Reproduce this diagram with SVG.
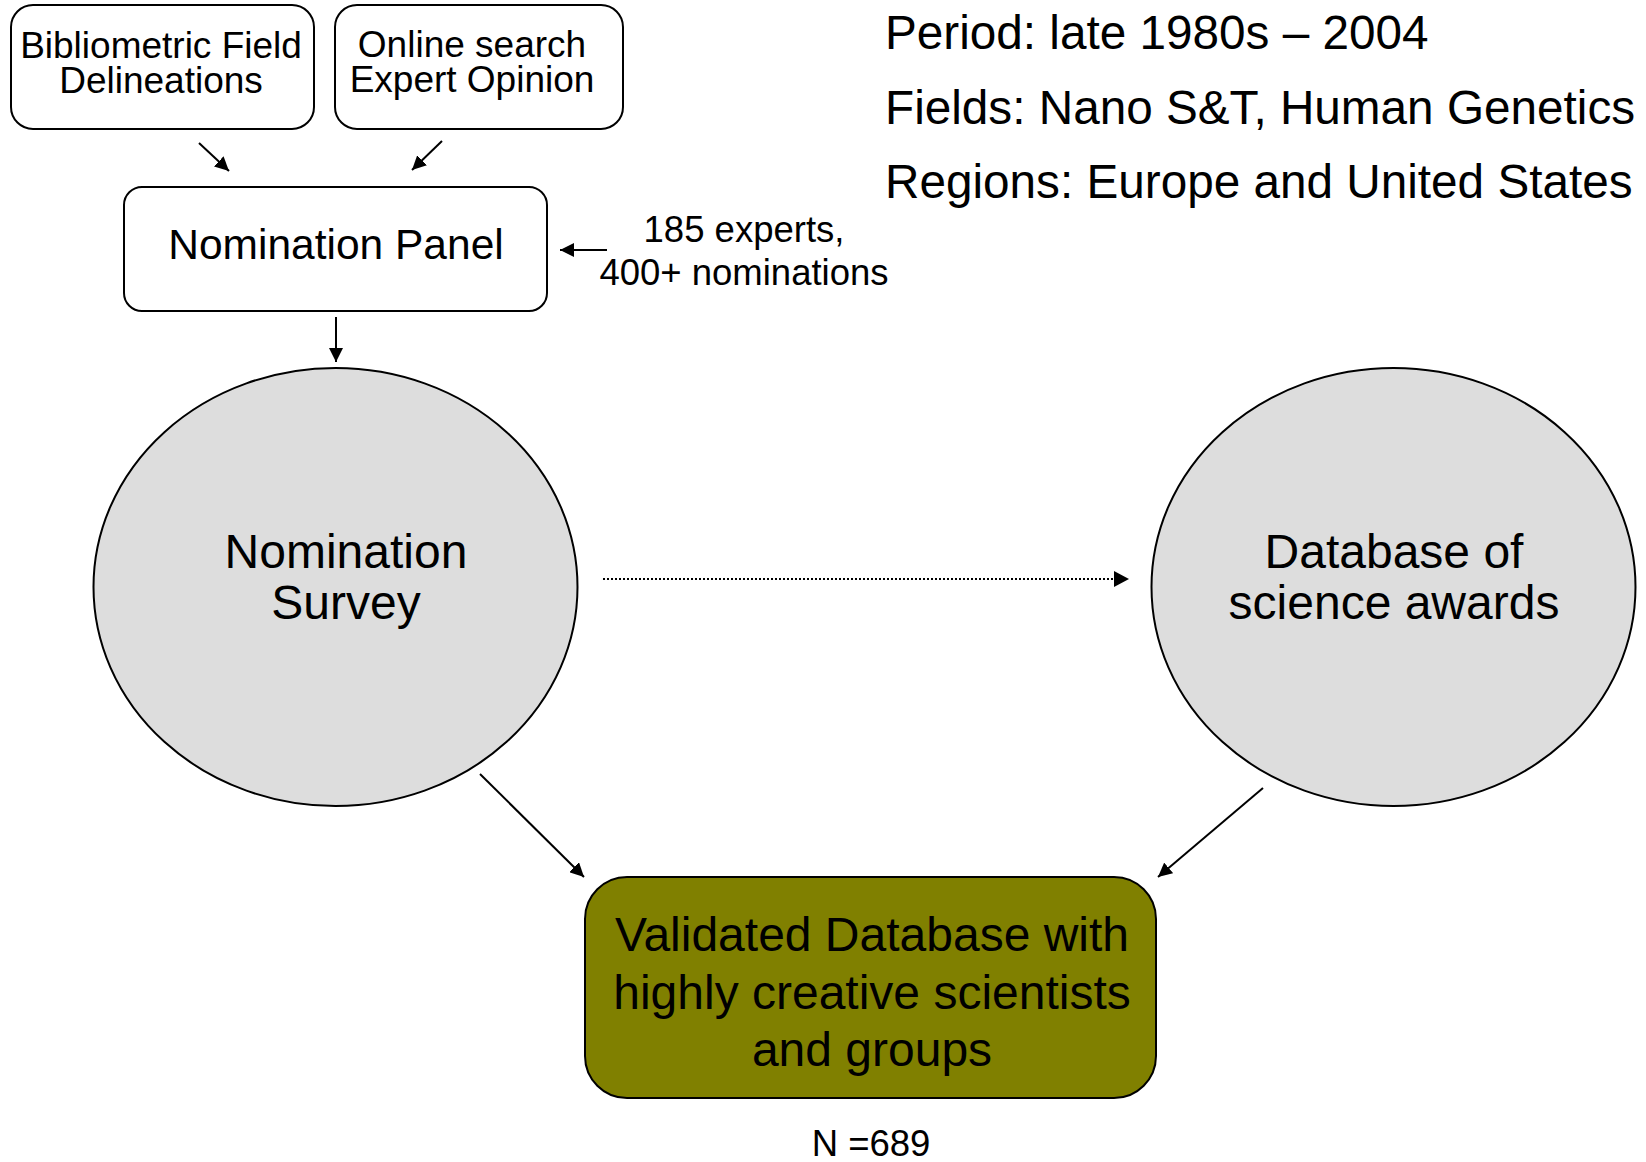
<svg xmlns="http://www.w3.org/2000/svg" width="1646" height="1162" viewBox="0 0 1646 1162">
<style>
text{font-family:"Liberation Sans",Arial,sans-serif;fill:#000;text-anchor:middle}
.box{fill:#fff;stroke:#000;stroke-width:2}
.ell{fill:#dddddd;stroke:#000;stroke-width:2}
.con{stroke:#000;stroke-width:2;fill:none;marker-end:url(#ah)}
.s36{font-size:36.5px}
.s37{font-size:37px}
.s42{font-size:42.5px}
.s48{font-size:48px}
.info{font-size:47.7px;text-anchor:start}
</style>
<defs>
<marker id="ah" viewBox="0 0 10 10" refX="10" refY="5" markerWidth="7" markerHeight="7" markerUnits="strokeWidth" orient="auto">
<path d="M0,0 L10,5 L0,10 z" fill="#000"/>
</marker>
</defs>
<g id="info">
<text class="info" x="885" y="49">Period: late 1980s – 2004</text>
<text class="info" x="885" y="124">Fields: Nano S&amp;T, Human Genetics</text>
<text class="info" x="885" y="198">Regions: Europe and United States</text>
</g>
<g id="biblio">
<rect class="box" x="11" y="5" width="303" height="124" rx="22"/>
<text class="s37" x="161" y="58">Bibliometric Field</text>
<text class="s37" x="161" y="93">Delineations</text>
</g>
<g id="online">
<rect class="box" x="335" y="5" width="288" height="124" rx="22"/>
<text class="s37" x="472" y="57">Online search</text>
<text class="s37" x="472" y="92">Expert Opinion</text>
</g>
<g id="panel">
<rect class="box" x="124" y="187" width="423" height="124" rx="18"/>
<text class="s42" x="336" y="259">Nomination Panel</text>
</g>
<g id="experts">
<text class="s36" x="744" y="242">185 experts,</text>
<text class="s36" x="744" y="285">400+ nominations</text>
</g>
<g id="survey">
<ellipse class="ell" cx="335.5" cy="587" rx="242" ry="219"/>
<text class="s48" x="346" y="568">Nomination</text>
<text class="s48" x="346" y="619">Survey</text>
</g>
<g id="awards">
<ellipse class="ell" cx="1393.5" cy="587" rx="242" ry="219"/>
<text class="s48" x="1394" y="568">Database of</text>
<text class="s48" x="1394" y="619">science awards</text>
</g>
<g id="validated">
<rect x="585" y="877" width="571" height="221" rx="42" fill="#808000" stroke="#000" stroke-width="2"/>
<text class="s48" x="872" y="951">Validated Database with</text>
<text class="s48" x="872" y="1009">highly creative scientists</text>
<text class="s48" x="872" y="1066">and groups</text>
</g>
<g id="count">
<text class="s36" x="871" y="1156">N =689</text>
</g>
<g id="connectors">
<line class="con" x1="199" y1="143" x2="229" y2="171"/>
<line class="con" x1="442" y1="141" x2="412" y2="170"/>
<line class="con" x1="607" y1="250" x2="560" y2="250"/>
<line class="con" x1="336" y1="317" x2="336" y2="362"/>
<line x1="603" y1="579" x2="1115" y2="579" stroke="#000" stroke-width="2" stroke-dasharray="2 2"/>
<path d="M1114,571 L1129,579 L1114,587 z" fill="#000"/>
<line class="con" x1="480" y1="774" x2="584" y2="877"/>
<line class="con" x1="1263" y1="788" x2="1158" y2="877"/>
</g>
</svg>
